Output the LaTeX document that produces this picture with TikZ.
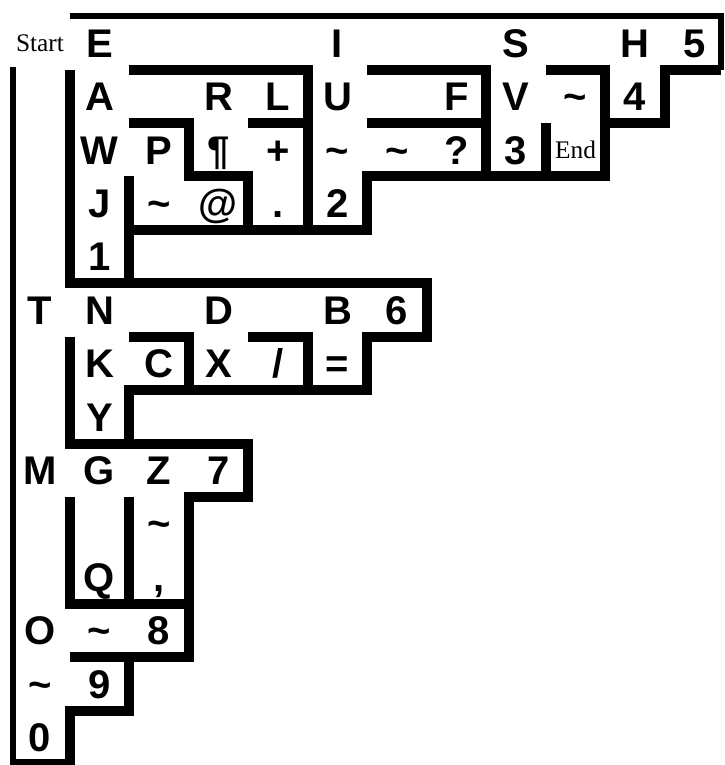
\documentclass[tikz,border=0pt]{standalone}
\usepackage{fontspec}
\setmainfont{Liberation Sans}
\newfontfamily\seriffont{Liberation Serif}
\usetikzlibrary{positioning}

\begin{document}
\begin{tikzpicture}[x=44.625pt, y=-40.05pt,
  wall/.style={line width=7.5pt},
  rim/.style={line width=4.6pt},
  lbl/.style={font=\fontsize{30}{30}\selectfont\bfseries, anchor=base, yshift=-10.7pt, inner sep=0pt},
  note/.style={font=\seriffont\fontsize{19}{19}\selectfont, anchor=base, yshift=-6.4pt, inner sep=0pt}]
  \useasboundingbox (-0.172,-0.305) rectangle (12.01,14.02);
  % Outer walls
  \draw[rim] (1,0) -- (11.95,0) -- (11.95,1);
  \draw[wall] (11.95,1) -- (11,1) -- (11,2) -- (10,2) -- (10,3) -- (6,3) -- (6,4) -- (2,4);
  \draw[rim] (0.04,14.1) -- (0.04,0.95);
  \draw[wall] (2,12) -- (2,13) -- (1,13) -- (1,14) -- (0,14);
  % Dot branches
  \draw[wall] (2,3) -- (2,5);
  \draw[wall] (1,1) -- (1,5) -- (7,5) -- (7,6) -- (6,6) -- (6,7) -- (2,7) -- (2,8);
  \draw[wall] (2,1) -- (5,1) -- (5,4);
  \draw[wall] (6,1) -- (8,1) -- (8,3);
  \draw[wall] (6,2) -- (8,2);
  \draw[wall] (9,1) -- (10,1) -- (10,3);
  \draw[wall] (9,2) -- (9,3);
  \draw[wall] (2,2) -- (3,2) -- (3,3) -- (4,3) -- (4,4);
  \draw[wall] (4,2) -- (5,2);
  % Dash branches
  \draw[wall] (1,6) -- (1,8) -- (4,8) -- (4,9) -- (3,9) -- (3,12) -- (1,12);
  \draw[wall] (2,6) -- (3,6) -- (3,7);
  \draw[wall] (4,6) -- (5,6) -- (5,7);
  \draw[wall] (1,9) -- (1,11) -- (3,11);
  \draw[wall] (2,9) -- (2,11);
  % Start and end
  \node[note] (start) at (0.5,0.5) {Start};
  \node[note] (end) at (9.5,2.5) {End};
  % Row E
  \node[lbl] (e) at (1.5,0.5) {E};
  \node[lbl] (i) at (5.5,0.5) {I};
  \node[lbl] (s) at (8.5,0.5) {S};
  \node[lbl] (h) at (10.5,0.5) {H};
  \node[lbl] (five) at (11.5,0.5) {5};
  \node[lbl] (a) at (1.5,1.5) {A};
  \node[lbl] (r) at (3.5,1.5) {R};
  \node[lbl] (l) at (4.5,1.5) {L};
  \node[lbl] (u) at (5.5,1.5) {U};
  \node[lbl] (f) at (7.5,1.5) {F};
  \node[lbl] (v) at (8.5,1.5) {V};
  \node[lbl] (tildeV) at (9.5,1.5) {\textasciitilde};
  \node[lbl] (four) at (10.5,1.5) {4};
  \node[lbl] (w) at (1.5,2.5) {W};
  \node[lbl] (p) at (2.5,2.5) {P};
  \node[lbl] (pilcrow) at (3.5,2.5) {¶};
  \node[lbl] (plus) at (4.5,2.5) {+};
  \node[lbl] (tildeU) at (5.5,2.5) {\textasciitilde};
  \node[lbl] (tildeF) at (6.5,2.5) {\textasciitilde};
  \node[lbl] (quest) at (7.5,2.5) {?};
  \node[lbl] (three) at (8.5,2.5) {3};
  \node[lbl] (j) at (1.5,3.5) {J};
  \node[lbl] (tildeP) at (2.5,3.5) {\textasciitilde};
  \node[lbl] (at) at (3.5,3.5) {@};
  \node[lbl] (dot) at (4.5,3.5) {.};
  \node[lbl] (two) at (5.5,3.5) {2};
  \node[lbl] (one) at (1.5,4.5) {1};
  % Row T
  \node[lbl] (t) at (0.5,5.5) {T};
  \node[lbl] (n) at (1.5,5.5) {N};
  \node[lbl] (d) at (3.5,5.5) {D};
  \node[lbl] (b) at (5.5,5.5) {B};
  \node[lbl] (six) at (6.5,5.5) {6};
  \node[lbl] (k) at (1.5,6.5) {K};
  \node[lbl] (c) at (2.5,6.5) {C};
  \node[lbl] (x) at (3.5,6.5) {X};
  \node[lbl] (slash) at (4.5,6.5) {/};
  \node[lbl] (equal) at (5.5,6.5) {=};
  \node[lbl] (y) at (1.5,7.5) {Y};
  \node[lbl] (m) at (0.5,8.5) {M};
  \node[lbl] (g) at (1.5,8.5) {G};
  \node[lbl] (z) at (2.5,8.5) {Z};
  \node[lbl] (seven) at (3.5,8.5) {7};
  \node[lbl] (tildeZ) at (2.5,9.5) {\textasciitilde};
  \node[lbl] (q) at (1.5,10.5) {Q};
  \node[lbl] (comma) at (2.5,10.5) {,};
  \node[lbl] (o) at (0.5,11.5) {O};
  \node[lbl] (tildeO) at (1.5,11.5) {\textasciitilde};
  \node[lbl] (eight) at (2.5,11.5) {8};
  \node[lbl] (tildeT) at (0.5,12.5) {\textasciitilde};
  \node[lbl] (nine) at (1.5,12.5) {9};
  \node[lbl] (zero) at (0.5,13.5) {0};
\end{tikzpicture}
\end{document}
